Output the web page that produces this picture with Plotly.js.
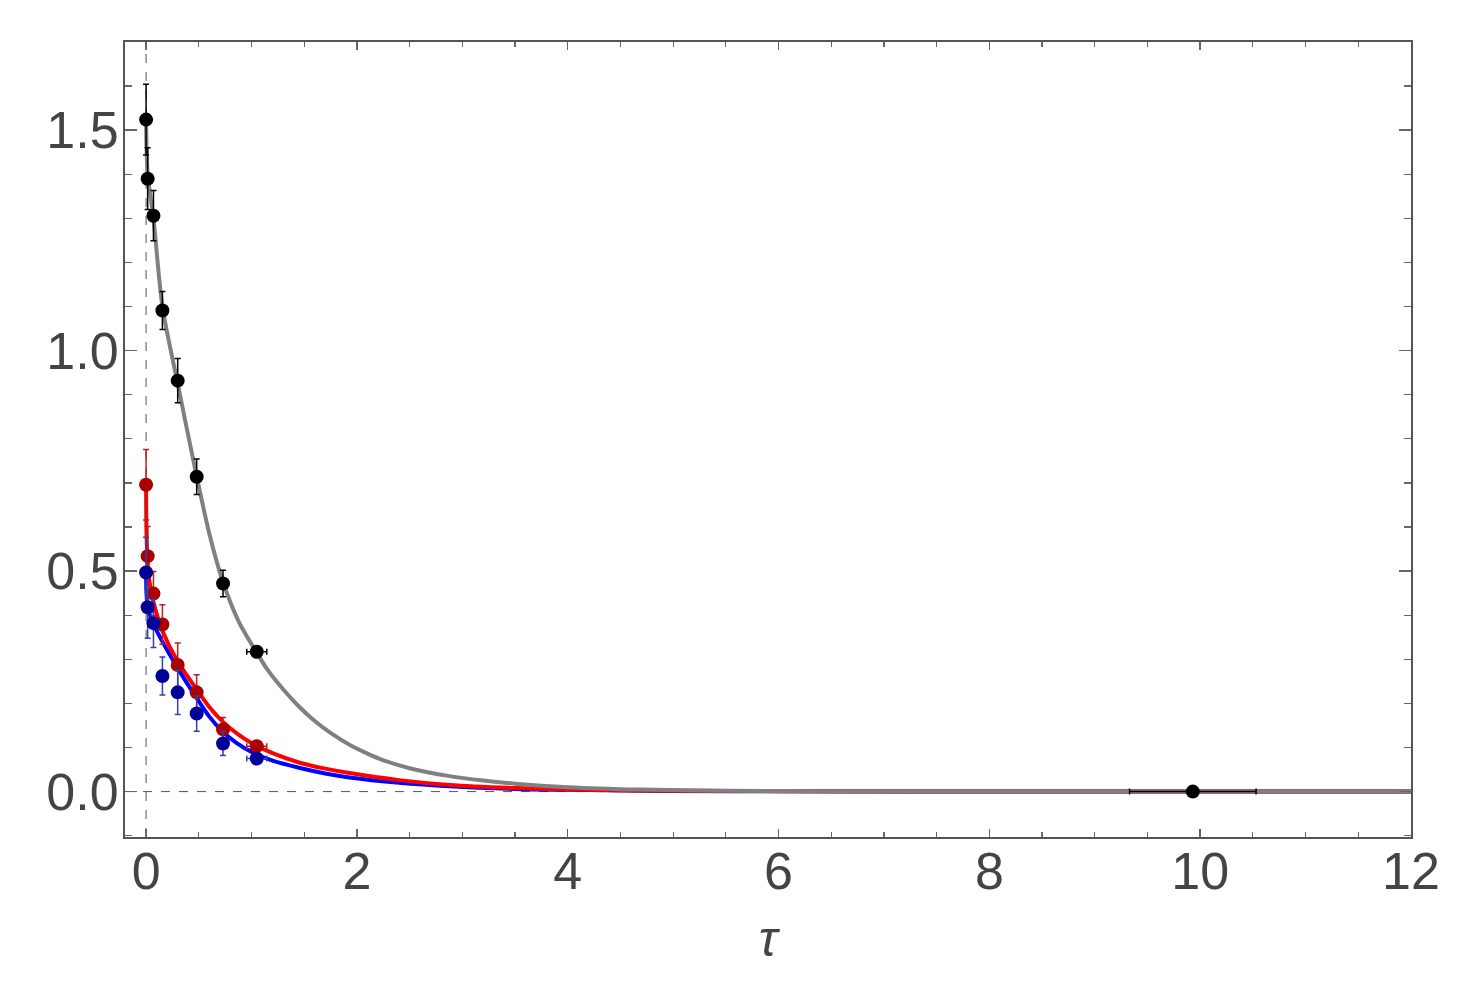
<!DOCTYPE html>
<html>
<head>
<meta charset="utf-8">
<script src="https://cdn.plot.ly/plotly-3.0.1.min.js"></script>
<style>html,body{margin:0;padding:0;background:#fff;}#chart{width:1481px;height:999px;}</style>
</head>
<body>
<div id="chart"></div>
<script>
// Data points (tau positions shared by the three series)
const tauPts = [0, 0.015, 0.07, 0.155, 0.3, 0.48, 0.73, 1.05];
const tauErr = [0, 0, 0, 0, 0, 0, 0.04, 0.095];

const blackY   = [1.524, 1.39, 1.306, 1.091, 0.932, 0.714, 0.472, 0.317];
const blackErr = [0.08, 0.07, 0.057, 0.043, 0.05, 0.04, 0.03, 0.012];

const redY   = [0.696, 0.534, 0.449, 0.379, 0.287, 0.225, 0.141, 0.103];
const redErr = [0.08, 0.067, 0.05, 0.045, 0.05, 0.04, 0.027, 0.01];

const blueY   = [0.497, 0.418, 0.382, 0.262, 0.225, 0.177, 0.109, 0.075];
const blueErr = [0.08, 0.07, 0.055, 0.043, 0.05, 0.04, 0.027, 0.01];

// Extra far point
const farTau = [9.93];
const farY = [0];
const farTauErr = [0.6];

// Fitted curves
const grayTau = [0, 0.015, 0.07, 0.155, 0.3, 0.48, 0.6, 0.73, 0.88, 1.05, 1.15, 1.3, 1.45, 1.6, 1.75, 1.93, 2.1, 2.24, 2.5, 2.88, 3.2, 3.5, 4.0, 4.68, 5.5, 6.5, 8, 10, 12];
const grayY   = [1.52, 1.40, 1.30, 1.10, 0.925, 0.715, 0.585, 0.475, 0.385, 0.315, 0.277, 0.232, 0.193, 0.160, 0.133, 0.106, 0.086, 0.072, 0.053, 0.035, 0.025, 0.018, 0.010, 0.0045, 0.002, 0.0008, 0.0002, 0.00003, 0];

const redTau = [0, 0.003, 0.01, 0.03, 0.07, 0.155, 0.3, 0.48, 0.6, 0.73, 0.86, 1.0, 1.2, 1.45, 1.7, 1.93, 2.4, 2.88, 3.5, 4.0, 5.0, 6.0, 8.0, 12];
const redCurve = [0.70, 0.60, 0.54, 0.48, 0.43, 0.365, 0.295, 0.232, 0.192, 0.158, 0.132, 0.11, 0.087, 0.066, 0.052, 0.042, 0.026, 0.015, 0.008, 0.005, 0.002, 0.001, 0.0002, 0];

const blueTau = [0, 0.003, 0.01, 0.03, 0.07, 0.155, 0.3, 0.48, 0.6, 0.73, 0.86, 1.0, 1.2, 1.45, 1.7, 1.93, 2.4, 2.88, 3.5, 4.0, 5.0, 6.0, 8.0, 12];
const blueCurve = [0.50, 0.455, 0.43, 0.405, 0.38, 0.34, 0.28, 0.212, 0.17, 0.135, 0.11, 0.09, 0.07, 0.054, 0.041, 0.032, 0.02, 0.012, 0.006, 0.004, 0.0015, 0.0006, 0.0001, 0];

const xTickVals = [0, 2, 4, 6, 8, 10, 12];
const yTickVals = [0, 0.5, 1.0, 1.5];
const yTickText = ['0.0', '0.5', '1.0', '1.5'];

function curve(x, y, color) {
  return {x: x, y: y, type: 'scatter', mode: 'lines',
    line: {color: color, width: 4, shape: 'spline', smoothing: 0.8},
    hoverinfo: 'skip', showlegend: false};
}
function pts(x, y, ey, ex, color, ecolor) {
  return {x: x, y: y, type: 'scatter', mode: 'markers',
    marker: {color: color, size: 14},
    error_y: {type: 'data', array: ey, visible: true, color: ecolor, thickness: 1.5, width: 3},
    error_x: {type: 'data', array: ex, visible: true, color: ecolor, thickness: 1.5, width: 3},
    showlegend: false};
}

const traces = [
  curve(blueTau, blueCurve, '#0000ff'),
  curve(redTau, redCurve, '#ff0000'),
  curve(grayTau, grayY, '#808080'),
  pts(tauPts, blackY, blackErr, tauErr, '#000000', '#000000'),
  pts(tauPts, redY, redErr, tauErr, '#aa0000', '#b22222'),
  pts(tauPts, blueY, blueErr, tauErr, '#000099', '#3340a8'),
  pts(farTau, farY, [0], farTauErr, '#000000', '#000000')
];

const axisCommon = {
  showgrid: false, zeroline: false, showline: true, mirror: 'ticks',
  linecolor: '#555555', linewidth: 2, ticks: 'inside', tickcolor: '#666666',
  tickfont: {family: 'Liberation Sans, Arial, sans-serif', size: 52, color: '#444444'}
};

const layout = {
  width: 1481, height: 999,
  margin: {l: 125, r: 70, t: 42, b: 162},
  paper_bgcolor: '#ffffff', plot_bgcolor: '#ffffff',
  xaxis: Object.assign({}, axisCommon, {
    range: [-0.2, 12], tickmode: 'array', tickvals: xTickVals, ticklen: 8, tickwidth: 1.5,
    ticklabelstandoff: -12,
    minor: {dtick: 0.5, ticklen: 5, tickcolor: '#666666', ticks: 'inside', tickwidth: 1.2},
    title: {text: '<i>τ</i>', font: {family: 'Liberation Sans, Arial, sans-serif', size: 50, color: '#444444'}, standoff: 22}
  }),
  yaxis: Object.assign({}, axisCommon, {
    range: [-0.103, 1.70], tickmode: 'array', tickvals: yTickVals, ticktext: yTickText, ticklen: 12, tickwidth: 1.5,
    ticklabelstandoff: -6,
    minor: {dtick: 0.1, ticklen: 7, tickcolor: '#666666', ticks: 'inside', tickwidth: 1.2}
  }),
  shapes: [
    {type: 'line', xref: 'x', yref: 'paper', x0: 0, x1: 0, y0: 0, y1: 1, line: {color: '#555555', width: 1, dash: 'dash'}, layer: 'below'},
    {type: 'line', xref: 'paper', yref: 'y', x0: 0, x1: 1, y0: 0, y1: 0, line: {color: '#555555', width: 1, dash: 'dash'}, layer: 'below'}
  ],
  showlegend: false
};

Plotly.newPlot('chart', traces, layout, {displayModeBar: false, staticPlot: true});
</script>
</body>
</html>
